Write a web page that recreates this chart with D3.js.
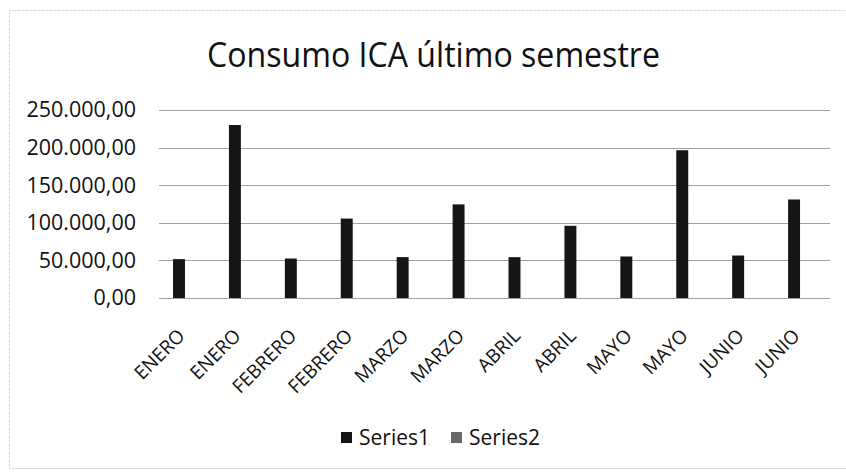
<!DOCTYPE html>
<html>
<head>
<meta charset="utf-8">
<script src="https://cdn.jsdelivr.net/npm/d3@7"></script>
<style>
  body { margin: 0; background: #fff; }
  svg { font-family: "Open Sans", "Noto Sans", sans-serif; }
</style>
</head>
<body>
<div id="chart"></div>
<script>
// chart data
var months = ["ENERO", "ENERO", "FEBRERO", "FEBRERO", "MARZO", "MARZO",
              "ABRIL", "ABRIL", "MAYO", "MAYO", "JUNIO", "JUNIO"];
var series1 = [51700, 230000, 52500, 105600, 54400, 124500,
               54300, 96000, 55200, 196500, 56500, 131000];
var series2 = [0, 0, 0, 0, 0, 0, 0, 0, 0, 0, 0, 0];
var seriesNames = ["Series1", "Series2"];
var yTicks = [0, 50000, 100000, 150000, 200000, 250000];

var W = 846, H = 472;
var margin = {top: 110, right: 16, bottom: 174, left: 159},
    width = W - margin.left - margin.right,
    height = H - margin.top - margin.bottom;

var svg = d3.select("#chart").append("svg")
    .attr("width", W)
    .attr("height", H);

// outer chart border
svg.append("rect")
    .attr("x", 9.5).attr("y", 10.5)
    .attr("width", W).attr("height", 458)
    .attr("fill", "none")
    .attr("stroke", "#d4d4d4")
    .attr("stroke-dasharray", "3,1");

svg.append("text")
    .attr("x", 207).attr("y", 67)
    .attr("textLength", 453)
    .attr("lengthAdjust", "spacingAndGlyphs")
    .style("font-size", "34px")
    .style("fill", "#111")
    .text("Consumo ICA último semestre");

var g = svg.append("g")
    .attr("transform", "translate(" + margin.left + "," + margin.top + ")");

var idx = d3.range(months.length);
var x0 = d3.scaleBand().domain(idx).range([0, width]).padding(0);
var x1 = d3.scaleBand().domain(seriesNames).range([0, x0.bandwidth()])
    .paddingInner(0.25).paddingOuter(0.88);

var y = d3.scaleLinear().domain([0, 250000]).range([height, 0]);

var fmt = function(v) {
  var s = d3.format(",.2f")(v);
  return s.replace(/,/g, "#").replace(".", ",").replace(/#/g, ".");
};

// gridlines
g.append("g")
    .selectAll("line")
    .data(yTicks)
    .enter().append("line")
    .attr("x1", 0).attr("x2", width)
    .attr("y1", function(d) { return Math.round(y(d)) + 0.5; })
    .attr("y2", function(d) { return Math.round(y(d)) + 0.5; })
    .attr("stroke", "#a0a0a0")
    .attr("stroke-width", 1.2);

// y axis
var yAxis = g.append("g")
    .call(d3.axisLeft(y).tickValues(yTicks).tickFormat(fmt).tickSize(0).tickPadding(23));
yAxis.select(".domain").remove();
yAxis.attr("font-family", null);
yAxis.selectAll("text")
    .style("font-size", "21.5px")
    .style("fill", "#111");

// bars
var data = idx.map(function(i) {
  return [{k: "Series1", v: series1[i]}, {k: "Series2", v: series2[i]}];
});
var colors = {Series1: "#151515", Series2: "#6a6a6a"};

g.append("g")
    .selectAll("g")
    .data(data)
    .enter().append("g")
    .attr("transform", function(d, i) { return "translate(" + x0(i) + ",0)"; })
    .selectAll("rect")
    .data(function(d) { return d; })
    .enter().append("rect")
    .attr("x", function(d) { return x1(d.k); })
    .attr("width", x1.bandwidth())
    .attr("y", function(d) { return y(d.v); })
    .attr("height", function(d) { return height - y(d.v); })
    .attr("fill", function(d) { return colors[d.k]; });

// x axis labels
var xAxis = g.append("g")
    .attr("transform", "translate(0," + height + ")")
    .call(d3.axisBottom(x0).tickFormat(function(i) { return months[i]; }).tickSize(0).tickPadding(0));
xAxis.select(".domain").remove();
xAxis.attr("font-family", null);
xAxis.selectAll("text")
    .attr("text-anchor", "end")
    .attr("dy", 0)
    .attr("transform", "translate(-1,39) rotate(-45)")
    .style("font-size", "19px")
    .style("fill", "#111");

// legend
var legend = svg.append("g");
var lx = [341, 451];
seriesNames.forEach(function(name, i) {
  legend.append("rect")
      .attr("x", lx[i]).attr("y", 432)
      .attr("width", 11).attr("height", 11)
      .attr("fill", colors[name]);
  legend.append("text")
      .attr("x", lx[i] + 18).attr("y", 445)
      .style("font-size", "21px")
      .style("fill", "#111")
      .text(name);
});
</script>
</body>
</html>
